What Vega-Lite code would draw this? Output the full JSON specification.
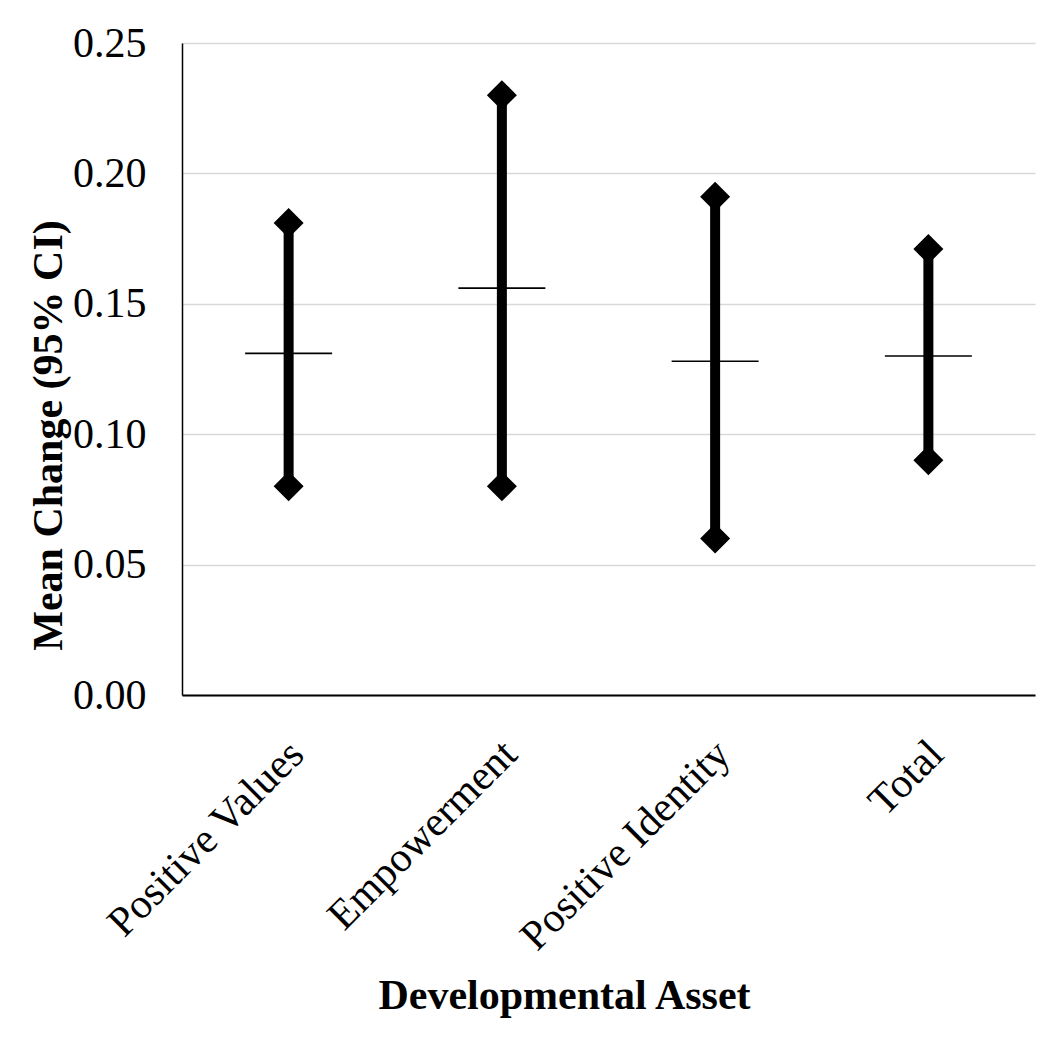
{
  "$schema": "https://vega.github.io/schema/vega-lite/v6.json",
  "width": 853,
  "height": 652,
  "autosize": {"type": "none"},
  "padding": {"left": 182, "top": 43, "right": 29, "bottom": 350},
  "background": "white",
  "config": {
    "view": {"stroke": null},
    "font": "Liberation Serif"
  },
  "data": {
    "values": [
      {"asset": "Positive Values", "lo": 0.08, "hi": 0.181, "mean": 0.131},
      {"asset": "Empowerment", "lo": 0.08, "hi": 0.23, "mean": 0.156},
      {"asset": "Positive Identity", "lo": 0.06, "hi": 0.191, "mean": 0.128},
      {"asset": "Total", "lo": 0.09, "hi": 0.171, "mean": 0.13}
    ]
  },
  "encoding": {
    "x": {
      "field": "asset",
      "type": "nominal",
      "sort": null,
      "scale": {"type": "band", "paddingInner": 0, "paddingOuter": 0},
      "axis": {
        "title": "Developmental Asset",
        "titleFont": "Liberation Serif",
        "titleFontSize": 42,
        "titleFontWeight": "bold",
        "titleColor": "black",
        "titleX": 382,
        "titleY": 313,
        "titleBaseline": "alphabetic",
        "labelAngle": -45,
        "labelFont": "Liberation Serif",
        "labelFontSize": 42,
        "labelColor": "black",
        "labelPadding": 38,
        "labelOffset": -6,
        "labelLimit": 0,
        "labelOverlap": false,
        "ticks": false,
        "tickSize": 0,
        "domainColor": "black",
        "domainWidth": 2,
        "grid": false
      }
    }
  },
  "layer": [
    {
      "mark": {"type": "rule", "color": "black", "strokeWidth": 10},
      "encoding": {
        "y": {
          "field": "lo",
          "type": "quantitative",
          "scale": {"domain": [0, 0.25], "nice": false},
          "axis": {
            "title": "Mean Change (95% CI)",
            "titleFont": "Liberation Serif",
            "titleFontSize": 42,
            "titleFontWeight": "bold",
            "titleColor": "black",
            "titleX": -121,
            "titleY": 392,
            "titleBaseline": "alphabetic",
            "values": [0, 0.05, 0.1, 0.15, 0.2, 0.25],
            "format": ".2f",
            "labelFont": "Liberation Serif",
            "labelFontSize": 42,
            "labelColor": "black",
            "labelPadding": 36,
            "ticks": false,
            "tickSize": 0,
            "domainColor": "black",
            "domainWidth": 1.5,
            "grid": true,
            "gridColor": "#d9d9d9",
            "gridWidth": 1.3
          }
        },
        "y2": {"field": "hi"}
      }
    },
    {
      "mark": {"type": "point", "shape": "diamond", "filled": true, "color": "black", "size": 900, "opacity": 1},
      "encoding": {"y": {"field": "lo", "type": "quantitative"}}
    },
    {
      "mark": {"type": "point", "shape": "diamond", "filled": true, "color": "black", "size": 900, "opacity": 1},
      "encoding": {"y": {"field": "hi", "type": "quantitative"}}
    },
    {
      "mark": {"type": "tick", "color": "black", "size": 87, "thickness": 1.6, "opacity": 1},
      "encoding": {"y": {"field": "mean", "type": "quantitative"}}
    }
  ]
}
